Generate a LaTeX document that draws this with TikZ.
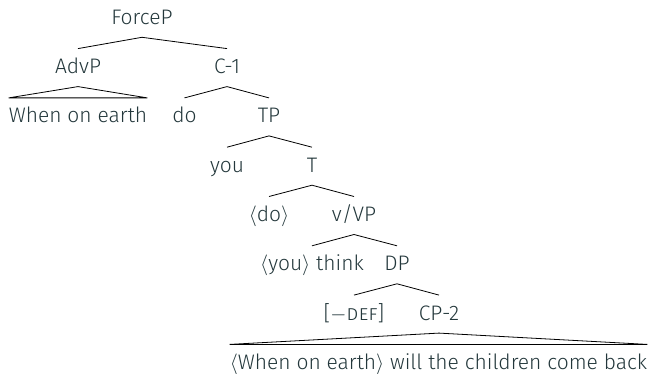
\documentclass[tikz,border=0pt]{standalone}
\usepackage{fontspec}
\setmainfont{Fira Sans Light}
\definecolor{txt}{HTML}{23373B}
% angle brackets for traces, set from the math font
\newcommand\tla{$\langle$}
\newcommand\tra{$\rangle$}
\begin{document}
\begin{tikzpicture}[x=1pt,y=-1pt,
  lbl/.style={anchor=base,inner sep=0pt,text=txt,font=\fontsize{21}{25}\selectfont},
  edge/.style={draw=black,line width=0.8pt}]
\useasboundingbox (0,0) rectangle (655,374);
% rows: baseline y = 24.3 + 49.3 k
\node[lbl] (force) at (142,24.3) {ForceP};
\node[lbl] (advp)  at (78,73.6) {AdvP};
\node[lbl] (c1)    at (227,73.6) {C-1};
\node[lbl] (woe)   at (78,122.9) {When on earth};
\node[lbl] (do)    at (184.5,122.9) {do};
\node[lbl] (tp)    at (269,122.9) {TP};
\node[lbl] (you)   at (227,172.2) {you};
\node[lbl] (t)     at (312,172.2) {T};
\node[lbl] (dotr)  at (269,221.5) {\tla do\tra};
\node[lbl] (vvp)   at (354,221.5) {v/VP};
\node[lbl] (think) at (312,270.8) {\tla you\tra{} think};
\node[lbl] (dp)    at (397,270.8) {DP};
\node[lbl] (def)   at (354,320.1) {[$-$\textsc{def}]};
\node[lbl] (cp2)   at (439,320.1) {CP-2};
\node[lbl] (emb)   at (438.5,369.4) {\tla When on earth\tra{} will the children come back};
% branches
\foreach \p/\a/\b in {force/advp/c1, c1/do/tp, tp/you/t, t/dotr/vvp, vvp/think/dp, dp/def/cp2}{
  \draw[edge] ([yshift=25pt]\a.base) -- ([yshift=-13pt]\p.base) -- ([yshift=25pt]\b.base);
}
% triangles
\draw[edge] ([yshift=-13pt]advp.base) -- ([yshift=25pt]woe.base west) -- ([yshift=25pt]woe.base east) -- cycle;
\draw[edge] ([yshift=-13pt]cp2.base) -- ([yshift=25pt]emb.base west) -- ([yshift=25pt]emb.base east) -- cycle;
\end{tikzpicture}
\end{document}
